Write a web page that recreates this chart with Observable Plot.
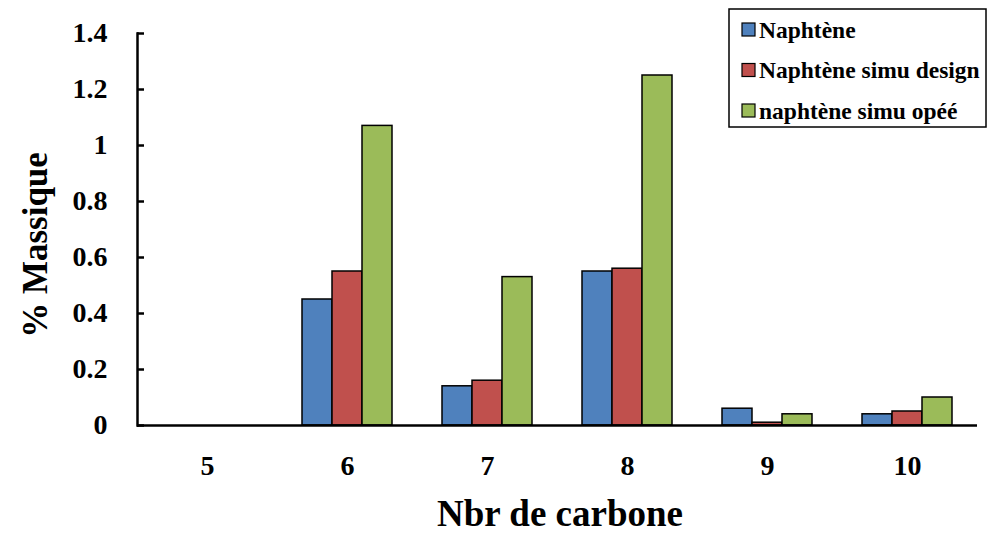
<!DOCTYPE html>
<html>
<head>
<meta charset="utf-8">
<script src="https://cdn.jsdelivr.net/npm/d3@7"></script>
<script src="https://cdn.jsdelivr.net/npm/@observablehq/plot@0.6"></script>
<style>
  html, body { margin: 0; padding: 0; background: #fff; }
  #chart { width: 988px; height: 533px; }
</style>
</head>
<body>
<div id="chart"></div>
<script>
const carbons = [5, 6, 7, 8, 9, 10];
const series = ["Naphtène", "Naphtène simu design", "naphtène simu opéé"];
const naphtene = [0, 0.45, 0.14, 0.55, 0.06, 0.04];
const simuDesign = [0, 0.55, 0.16, 0.56, 0.01, 0.05];
const simuOpee = [0, 1.07, 0.53, 1.25, 0.04, 0.10];
const colors = ["#4F81BD", "#C0504D", "#9BBB59"];
const yTicks = [0, 0.2, 0.4, 0.6, 0.8, 1, 1.2, 1.4];
const xTitle = "Nbr de carbone";
const yTitle = "% Massique";

const values = [naphtene, simuDesign, simuOpee];
const data = carbons.flatMap((c, i) => series.map((s, j) => ({c, s, v: values[j][i]})));

const font = "'Liberation Serif', 'Times New Roman', serif";
const fmt = d => String(+d.toFixed(1));

const chart = Plot.plot({
  width: 988,
  height: 533,
  marginLeft: 135,
  marginRight: 10,
  marginTop: 33,
  marginBottom: 108,
  style: {fontFamily: font, fontWeight: "bold", background: "white", color: "black", overflow: "visible"},
  fx: {domain: carbons, padding: 0, label: null},
  x: {domain: series, paddingInner: 0, paddingOuter: 0.766, axis: null},
  y: {domain: [0, 1.4]},
  color: {domain: series, range: colors},
  marks: [
    Plot.barY(data, {fx: "c", x: "s", y: "v", fill: "s", stroke: "black", strokeWidth: 1.5, inset: 0}),
    Plot.ruleY([0], {stroke: "black", strokeWidth: 2.5}),
    Plot.frame({anchor: "left", facetAnchor: "left", stroke: "black", strokeWidth: 2.5}),
    Plot.axisY({ticks: yTicks, tickSize: -7, tickFormat: () => "", label: null, strokeWidth: 2.5}),
    Plot.axisY({ticks: yTicks, tickSize: 0, tickPadding: 30, fontSize: 28, tickFormat: fmt, label: null}),
    Plot.axisFx({anchor: "bottom", tickSize: 0, tickPadding: 30, fontSize: 28, label: null})
  ]
});

document.getElementById("chart").appendChild(chart);

const svg = d3.select(chart);
// axis titles
svg.append("text")
  .attr("x", 560).attr("y", 526)
  .attr("text-anchor", "middle")
  .style("font-family", font).style("font-weight", "bold").style("font-size", "37px")
  .text(xTitle);
svg.append("text")
  .attr("transform", "translate(47,245) rotate(-90)")
  .attr("text-anchor", "middle")
  .style("font-family", font).style("font-weight", "bold").style("font-size", "35px")
  .text(yTitle);

// legend
const lg = svg.append("g").attr("text-anchor", "start");
lg.append("rect").attr("x", 729).attr("y", 9).attr("width", 257).attr("height", 118)
  .attr("fill", "white").attr("stroke", "black").attr("stroke-width", 1.5);
series.forEach((s, i) => {
  const cy = 29.5 + i * 40.5;
  lg.append("rect").attr("x", 742).attr("y", cy - 6.5).attr("width", 13).attr("height", 13)
    .attr("fill", colors[i]).attr("stroke", "black").attr("stroke-width", 1.2);
  lg.append("text").attr("x", 759).attr("y", cy + 8)
    .attr("text-anchor", "start")
    .style("font-family", font).style("font-weight", "bold").style("font-size", "23.5px")
    .text(s);
});
</script>
</body>
</html>
